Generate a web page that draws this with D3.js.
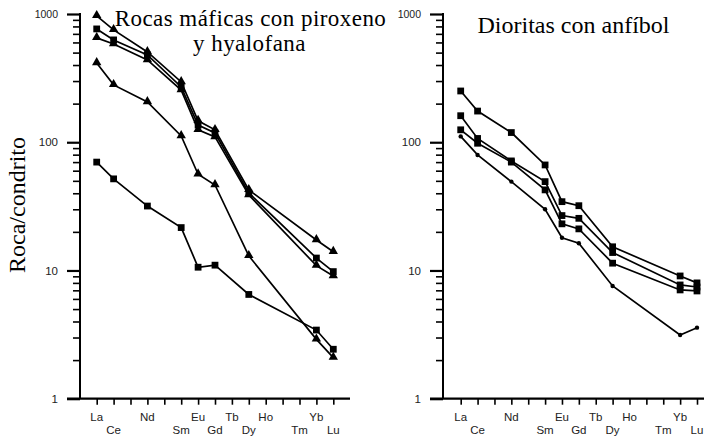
<!DOCTYPE html>
<html><head><meta charset="utf-8">
<script src="https://cdn.jsdelivr.net/npm/d3@7"></script>
<style>body{margin:0;background:#fff}svg{display:block}</style>
</head><body>
<script>
const elements = ["La","Ce","Pr","Nd","Pm","Sm","Eu","Gd","Tb","Dy","Ho","Er","Tm","Yb","Lu"];
const labelsTop = ["La","Nd","Eu","Tb","Ho","Yb"];
const labelsBottom = ["Ce","Sm","Gd","Dy","Tm","Lu"];
const plotted = ["La","Ce","Nd","Sm","Eu","Gd","Dy","Yb","Lu"];
const yMajor = [1,10,100,1000];

// Left panel: Rocas máficas con piroxeno y hyalofana
const leftTitle = ["Rocas máficas con piroxeno","y hyalofana"];
const left1 = [967,752,506,295,147,125,42.5,17.3,14.0];
const left2 = [765,628,480,270,136,118,40.2,12.5,9.8];
const left3 = [651,584,438,255,125,110,38.8,10.9,9.06];
const left4 = [415,280,206,112,56.3,46.4,13.0,2.9,2.09];
const left5 = [70,51.8,31.8,21.6,10.6,11.0,6.5,3.43,2.43];
const leftMarkers = ["triangle","square","triangle","triangle","square"];

// Right panel: Dioritas con anfíbol
const rightTitle = "Dioritas con anfíbol";
const right1 = [251,175,119,66.5,34.4,32.0,15.3,9.06,8.0];
const right2 = [161,107,71.5,49.3,26.8,25.5,13.8,7.71,7.43];
const right3 = [125,98.2,70,42.5,23.1,21.1,11.4,7.05,6.92];
const right4 = [111,79.6,49.3,30.0,18.0,16.3,7.57,3.14,3.58];
const rightMarkers = ["square","square","square","dot"];

const yTitle = "Roca/condrito";

const W = 704, H = 437;
const svg = d3.select("body").append("svg").attr("width",W).attr("height",H);

const y = d3.scaleLog().domain([1,1000]).range([398.7,14]);
const minors = [];
[1,10,100].forEach(d => { for (let k=2;k<=9;k++) minors.push(d*k); });

function panel(opts){
  const x = d3.scaleLinear().domain([0,14]).range([opts.x0, opts.x1]);
  const g = svg.append("g");
  const minorAxis = d3.axisLeft(y).tickValues(minors).tickSize(7).tickFormat("");
  g.append("g").attr("transform",`translate(${opts.ax},0)`).call(minorAxis)
    .call(s=>s.select(".domain").remove())
    .selectAll("line").attr("stroke","#000").attr("stroke-width",1.6);
  const majorAxis = d3.axisLeft(y).tickValues(yMajor).tickSize(13).tickPadding(9).tickFormat(d3.format("d"));
  const ma = g.append("g").attr("transform",`translate(${opts.ax},0)`).call(majorAxis);
  ma.select(".domain").remove();
  ma.selectAll("line").attr("stroke","#000").attr("stroke-width",2.2);
  ma.selectAll("text").attr("font-family","Liberation Sans, Arial, sans-serif")
    .attr("font-size",d=>d===1000?10.5:11.5).attr("fill","#222");
  g.append("line").attr("x1",opts.ax).attr("x2",opts.ax).attr("y1",y(1000)-1).attr("y2",y(1)).attr("stroke","#000").attr("stroke-width",2);
  const xa = d3.axisBottom(x).tickValues(d3.range(15)).tickSize(6).tickFormat("");
  const xg = g.append("g").attr("transform",`translate(0,${y(1)})`).call(xa);
  xg.select(".domain").remove();
  xg.selectAll("line").attr("stroke","#000").attr("stroke-width",1.6);
  g.append("line").attr("x1",opts.ax-13).attr("x2",opts.xe).attr("y1",y(1)).attr("y2",y(1)).attr("stroke","#000").attr("stroke-width",2.2);
  labelsTop.forEach(l=>{
    g.append("text").attr("x",x(elements.indexOf(l))).attr("y",421).attr("text-anchor","middle")
      .attr("font-family","Liberation Sans, Arial, sans-serif").attr("font-size",11.5).attr("fill","#222").text(l);
  });
  labelsBottom.forEach(l=>{
    g.append("text").attr("x",x(elements.indexOf(l))).attr("y",433.5).attr("text-anchor","middle")
      .attr("font-family","Liberation Sans, Arial, sans-serif").attr("font-size",11.5).attr("fill","#222").text(l);
  });
  const line = d3.line().x((d,i)=>x(elements.indexOf(plotted[i]))).y(d=>y(d));
  opts.series.forEach((s,si)=>{
    g.append("path").attr("d",line(s)).attr("fill","none").attr("stroke","#000").attr("stroke-width",1.7);
    const m = opts.markers[si];
    s.forEach((v,i)=>{
      const cx = x(elements.indexOf(plotted[i])), cy = y(v);
      if (m==="dot") {
        g.append("circle").attr("cx",cx).attr("cy",cy).attr("r",2.2).attr("fill","#000");
      } else {
        const sym = m==="square" ? d3.symbol().type(d3.symbolSquare).size(46) : d3.symbol().type(d3.symbolTriangle).size(38);
        g.append("path").attr("d",sym()).attr("transform",`translate(${cx},${cy - (m==="triangle"?0.5:0)})`).attr("fill","#000");
      }
    });
  });
  return g;
}

panel({x0:96.7,x1:333.3,ax:80,xe:350,series:[left1,left2,left3,left4,left5],markers:leftMarkers});
panel({x0:460.7,x1:697,ax:443,xe:704,series:[right1,right2,right3,right4],markers:rightMarkers});

const serif = "Liberation Serif, Times New Roman, serif";
svg.append("text").attr("x",250.5).attr("y",26).attr("text-anchor","middle")
  .attr("font-family",serif).attr("font-size",23).attr("letter-spacing",0.45).text(leftTitle[0]);
svg.append("text").attr("x",249.5).attr("y",51).attr("text-anchor","middle")
  .attr("font-family",serif).attr("font-size",23).attr("letter-spacing",0.45).text(leftTitle[1]);
svg.append("text").attr("x",573.5).attr("y",33).attr("text-anchor","middle")
  .attr("font-family",serif).attr("font-size",24).text(rightTitle);
svg.append("text").attr("transform","translate(25,205) rotate(-90)").attr("text-anchor","middle")
  .attr("font-family",serif).attr("font-size",24).text(yTitle);
</script>
</body></html>
